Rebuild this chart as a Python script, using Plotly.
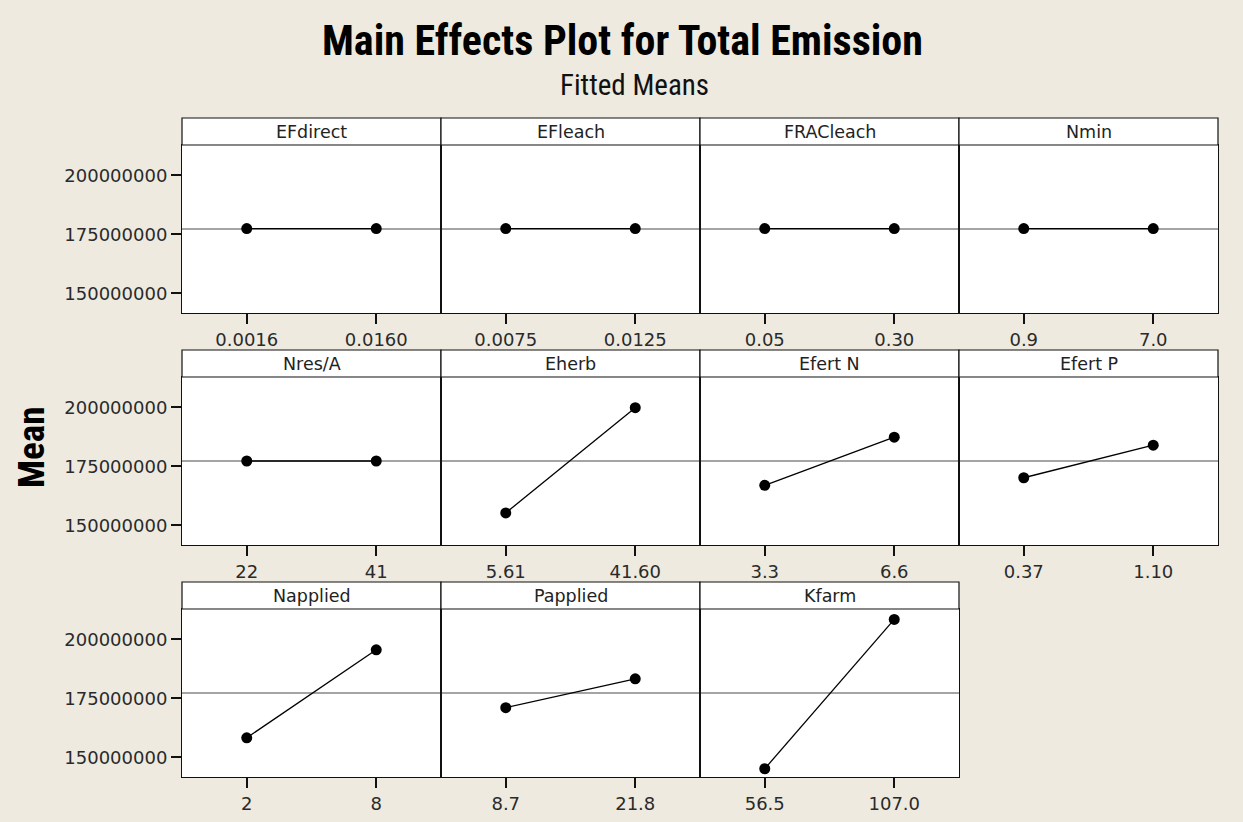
import plotly.graph_objects as go

# Factor names and their two levels (low, high)
factors = ["EFdirect", "EFleach", "FRACleach", "Nmin",
           "Nres/A", "Eherb", "Efert N", "Efert P",
           "Napplied", "Papplied", "Kfarm"]
low_levels = ["0.0016", "0.0075", "0.05", "0.9",
              "22", "5.61", "3.3", "0.37",
              "2", "8.7", "56.5"]
high_levels = ["0.0160", "0.0125", "0.30", "7.0",
               "41", "41.60", "6.6", "1.10",
               "8", "21.8", "107.0"]

# Fitted means of Total Emission at the low and high level of each factor
low_means = [177500000, 177500000, 177500000, 177500000,
             177300000, 155300000, 167000000, 170200000,
             158300000, 171100000, 145200000]
high_means = [177500000, 177500000, 177500000, 177500000,
              177300000, 199900000, 187400000, 184000000,
              195600000, 183300000, 208500000]
grand_mean = 177300000

y_ticks = [150000000, 175000000, 200000000]
y_range = [141700000, 212900000]

# Page geometry (pixels)
W, H = 1243, 822
col_edges = [182, 441, 700, 959, 1218]
row_plot = [(145, 313), (377, 545), (609, 777)]
header_h = 27

BG = "#EEEAE0"
INK = "#111111"
TICK_FONT = dict(family="DejaVu Sans, Verdana, sans-serif", size=18, color="#2a2a2a")
NARROW = "Liberation Sans Narrow, Arial Narrow, Roboto Condensed, DejaVu Sans Condensed, Liberation Sans, sans-serif"

fig = go.Figure()
layout = {}
shapes = []
annotations = []

for i, name in enumerate(factors):
    r, c = divmod(i, 4)
    suffix = "" if i == 0 else str(i + 1)
    xa, ya = "x" + suffix, "y" + suffix

    fig.add_trace(go.Scatter(
        x=[low_levels[i], high_levels[i]],
        y=[low_means[i], high_means[i]],
        xaxis=xa, yaxis=ya,
        mode="lines+markers",
        line=dict(color="#000000", width=1.3),
        marker=dict(color="#000000", size=11),
        showlegend=False, hoverinfo="x+y",
    ))

    left, right = col_edges[c], col_edges[c + 1]
    top, bot = row_plot[r]

    layout["xaxis" + suffix] = dict(
        domain=[left / W, right / W], anchor=ya, type="category",
        range=[-0.5, 1.5], showline=True, mirror=True, linecolor=INK,
        linewidth=1, ticks="outside", ticklen=10, tickwidth=1.5,
        tickcolor=INK, showgrid=False, zeroline=False, tickfont=TICK_FONT,
        fixedrange=True,
    )
    layout["yaxis" + suffix] = dict(
        domain=[1 - bot / H, 1 - top / H], anchor=xa, range=y_range,
        tickvals=y_ticks, tickformat="d", showline=True, mirror=True,
        linecolor=INK, linewidth=1, ticks="outside" if c == 0 else "",
        ticklen=10, tickwidth=1.5, tickcolor=INK,
        showticklabels=(c == 0), showgrid=False, zeroline=False,
        tickfont=TICK_FONT, fixedrange=True,
    )

    # grand-mean reference line across the panel
    shapes.append(dict(
        type="line", xref=xa + " domain", yref=ya, x0=0, x1=1,
        y0=grand_mean, y1=grand_mean,
        line=dict(color="#4a4a4a", width=1.2), layer="below",
    ))

    # strip header with the factor name
    shapes.append(dict(
        type="rect", xref="paper", yref="paper",
        x0=left / W, x1=right / W,
        y0=1 - top / H, y1=1 - (top - header_h) / H,
        fillcolor="white", line=dict(color=INK, width=1.2), layer="above",
    ))
    annotations.append(dict(
        text=name, xref="paper", yref="paper",
        x=(left + right) / 2 / W, y=1 - (top - header_h / 2) / H,
        xanchor="center", yanchor="middle", showarrow=False,
        font=dict(family="DejaVu Sans, Verdana, sans-serif", size=17.5, color="#222222"),
    ))

# titles
annotations.append(dict(
    text="<b>Main Effects Plot for Total Emission</b>", xref="paper", yref="paper",
    x=622 / W, y=1 - 41 / H, xanchor="center", yanchor="middle", showarrow=False,
    font=dict(family=NARROW, size=42, color="#000000"),
))
annotations.append(dict(
    text="Fitted Means", xref="paper", yref="paper",
    x=634 / W, y=1 - 85 / H, xanchor="center", yanchor="middle", showarrow=False,
    font=dict(family=NARROW, size=29, color="#111111"),
))
annotations.append(dict(
    text="<b>Mean</b>", xref="paper", yref="paper",
    x=32 / W, y=1 - 447 / H, xanchor="center", yanchor="middle", showarrow=False,
    textangle=-90, font=dict(family=NARROW, size=37, color="#000000"),
))

fig.update_layout(
    width=W, height=H, margin=dict(l=0, r=0, t=0, b=0),
    paper_bgcolor=BG, plot_bgcolor="white",
    shapes=shapes, annotations=annotations, showlegend=False,
    **layout,
)

fig.write_html("out.html", config={"displayModeBar": False})
